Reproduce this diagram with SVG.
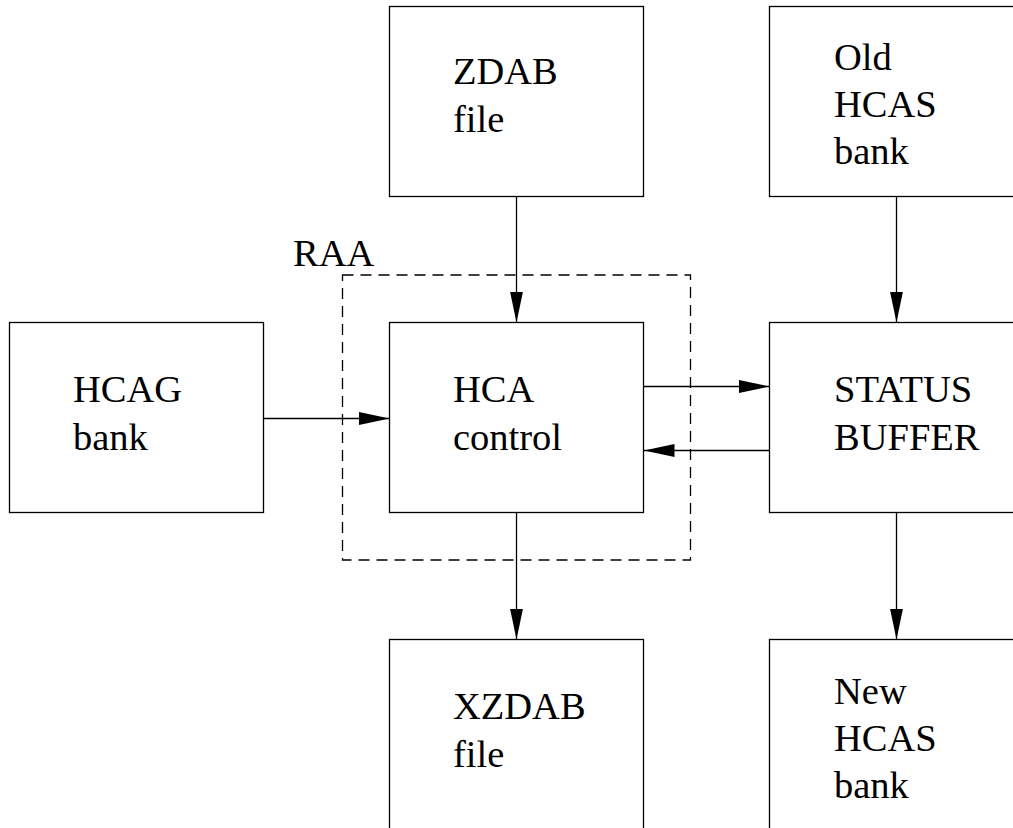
<svg xmlns="http://www.w3.org/2000/svg" width="1013" height="828" viewBox="0 0 1013 828">
  <style>
    .box { fill: none; stroke: #000; stroke-width: 1.3; }
    .lbl { font-family: "Liberation Serif", "Times New Roman", serif; font-size: 38.5px; fill: #000; }
    .edge { fill: none; stroke: #000; stroke-width: 1.3; marker-end: url(#head); }
    .group { fill: none; stroke: #000; stroke-width: 1.3; stroke-dasharray: 11 7; }
  </style>
  <defs>
    <marker id="head" markerUnits="userSpaceOnUse" markerWidth="31" markerHeight="14" refX="31" refY="7" orient="auto">
      <path d="M0,0.5 L31,7 L0,13.5 Z" fill="#000"/>
    </marker>
  </defs>
  <rect width="1013" height="828" fill="#fff"/>

  <!-- RAA grouping boundary -->
  <g id="raa">
    <rect class="group" x="342.5" y="275" width="348" height="285"/>
    <text class="lbl" x="293" y="266">RAA</text>
  </g>

  <g id="zdab">
    <rect class="box" x="389.5" y="6.5" width="254" height="190"/>
    <text class="lbl" x="453" y="84">ZDAB</text>
    <text class="lbl" x="453" y="131.5">file</text>
  </g>

  <g id="old-hcas">
    <rect class="box" x="769.5" y="6.5" width="254" height="190"/>
    <text class="lbl" x="834" y="70">Old</text>
    <text class="lbl" x="834" y="117">HCAS</text>
    <text class="lbl" x="834" y="164">bank</text>
  </g>

  <g id="hcag">
    <rect class="box" x="9.5" y="322.5" width="254" height="190"/>
    <text class="lbl" x="73" y="401.5">HCAG</text>
    <text class="lbl" x="73" y="450">bank</text>
  </g>

  <g id="hca-control">
    <rect class="box" x="389.5" y="322.5" width="254" height="190"/>
    <text class="lbl" x="453" y="401.5">HCA</text>
    <text class="lbl" x="453" y="450">control</text>
  </g>

  <g id="status-buffer">
    <rect class="box" x="769.5" y="322.5" width="254" height="190"/>
    <text class="lbl" x="834" y="401.5">STATUS</text>
    <text class="lbl" x="834" y="450">BUFFER</text>
  </g>

  <g id="xzdab">
    <rect class="box" x="389.5" y="639.5" width="254" height="200"/>
    <text class="lbl" x="453" y="718.5">XZDAB</text>
    <text class="lbl" x="453" y="766.5">file</text>
  </g>

  <g id="new-hcas">
    <rect class="box" x="769.5" y="639.5" width="254" height="200"/>
    <text class="lbl" x="834" y="703.5">New</text>
    <text class="lbl" x="834" y="750.5">HCAS</text>
    <text class="lbl" x="834" y="797.5">bank</text>
  </g>

  <g id="connectors">
    <line class="edge" x1="516.5" y1="196.5" x2="516.5" y2="322.5"/>
    <line class="edge" x1="896.5" y1="196.5" x2="896.5" y2="322.5"/>
    <line class="edge" x1="263.5" y1="418.5" x2="389.5" y2="418.5"/>
    <line class="edge" x1="643.5" y1="386.5" x2="769.5" y2="386.5"/>
    <line class="edge" x1="769.5" y1="450.5" x2="643.5" y2="450.5"/>
    <line class="edge" x1="516.5" y1="512.5" x2="516.5" y2="639.5"/>
    <line class="edge" x1="896.5" y1="512.5" x2="896.5" y2="639.5"/>
  </g>
</svg>
